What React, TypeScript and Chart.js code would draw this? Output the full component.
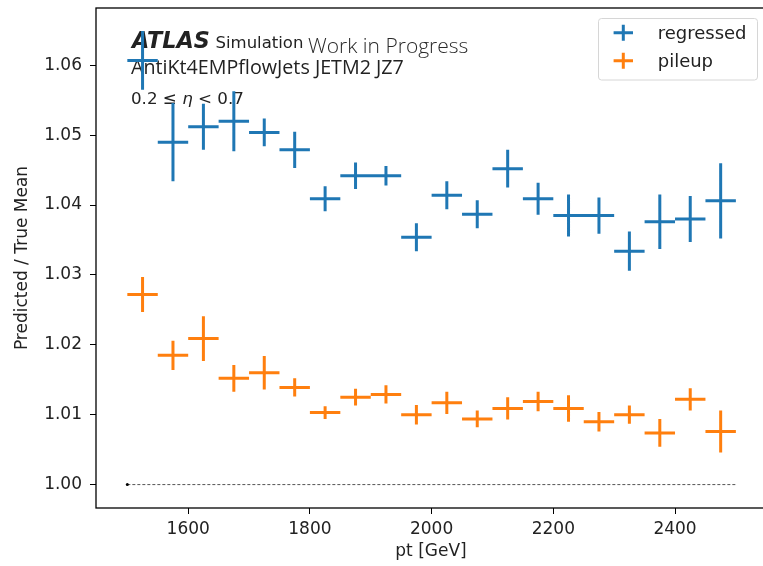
import React, { useEffect, useRef } from "react";
import { Chart, registerables } from "chart.js";

Chart.register(...registerables);

// ---- data ----
const binCenters = [1525, 1575, 1625, 1675, 1725, 1775, 1825, 1875, 1925, 1975, 2025, 2075, 2125, 2175, 2225, 2275, 2325, 2375, 2425, 2475];
const binHalfWidth = 25;
const regressedMean = [1.0607, 1.0490, 1.0512, 1.0520, 1.0504, 1.0479, 1.0409, 1.0442, 1.0442, 1.0354, 1.0414, 1.0387, 1.0452, 1.0409, 1.0385, 1.0385, 1.0334, 1.0376, 1.0380, 1.0406];
const regressedErr = [0.0042, 0.0056, 0.0033, 0.0043, 0.0020, 0.0026, 0.0018, 0.0019, 0.0014, 0.0020, 0.0020, 0.0020, 0.0027, 0.0023, 0.0030, 0.0026, 0.0028, 0.0039, 0.0033, 0.0054];
const pileupMean = [1.0272, 1.0185, 1.0209, 1.0152, 1.0160, 1.0139, 1.0103, 1.0125, 1.0129, 1.0100, 1.0117, 1.0094, 1.0109, 1.0119, 1.0109, 1.0090, 1.0100, 1.0074, 1.0122, 1.0076];
const pileupErr = [0.0025, 0.0021, 0.0032, 0.0019, 0.0024, 0.0013, 0.0009, 0.0012, 0.0013, 0.0014, 0.0016, 0.0012, 0.0016, 0.0014, 0.0019, 0.0014, 0.0013, 0.0020, 0.0016, 0.0030];
const referenceX = [1500, 2500];
const referenceY = 1.0;
const xTicks = [1600, 1800, 2000, 2200, 2400];
const yTicks = [1.0, 1.01, 1.02, 1.03, 1.04, 1.05, 1.06];
const xRange = [1448.5, 2549.5];
const yRange = [0.99665, 1.0682];
const seriesNames = ["regressed", "pileup"];
const seriesColors = ["#1f77b4", "#ff7f0e"];
const xTitle = "pt [GeV]";
const yTitle = "Predicted / True Mean";

type Pt = { x: number; y: number | null };

function crossSegments(means: number[], errs: number[]): Pt[] {
  const out: Pt[] = [];
  binCenters.forEach((xc, i) => {
    const m = means[i];
    const e = errs[i];
    out.push({ x: xc - binHalfWidth, y: m });
    out.push({ x: xc + binHalfWidth, y: m });
    out.push({ x: xc, y: null });
    out.push({ x: xc, y: m - e });
    out.push({ x: xc, y: m + e });
    out.push({ x: xc, y: null });
  });
  return out;
}

const TXT = "#222222";

const decorations = {
  id: "decorations",
  beforeDatasetsDraw(chart: any) {
    const ctx = chart.ctx as CanvasRenderingContext2D;
    const a = chart.chartArea;
    ctx.save();
    ctx.fillStyle = TXT;
    ctx.textBaseline = "alphabetic";
    ctx.textAlign = "left";
    const x0 = a.left + 36;
    ctx.font = 'italic bold 22.3px "DejaVu Sans"';
    ctx.fillText("ATLAS", x0, 48.3);
    ctx.font = '16.5px "DejaVu Sans"';
    ctx.fillText("Simulation", 215.5, 47.7);
    ctx.font = '300 21px "Open Sans"';
    ctx.fillStyle = "#2a2a2a";
    ctx.fillText("Work in Progress", 308, 53.3);
    ctx.fillStyle = TXT;
    ctx.font = '19.7px "Open Sans"';
    ctx.fillText("AntiKt4EMPflowJets JETM2 JZ7", x0 - 1, 74.3);
    // eta range
    let x = x0 - 1;
    const y = 104.3;
    ctx.font = '16.7px "DejaVu Sans"';
    const p1 = "0.2 \u2264 ";
    ctx.fillText(p1, x, y);
    x += ctx.measureText(p1).width;
    ctx.font = 'italic 16.7px "DejaVu Sans"';
    ctx.fillText("\u03b7", x, y);
    x += ctx.measureText("\u03b7").width;
    ctx.font = '16.7px "DejaVu Sans"';
    ctx.fillText(" < 0.7", x, y);
    ctx.restore();
  },
  afterDraw(chart: any) {
    const ctx = chart.ctx as CanvasRenderingContext2D;
    const a = chart.chartArea;
    ctx.save();
    // frame
    ctx.strokeStyle = "#000";
    ctx.lineWidth = 1.3;
    ctx.strokeRect(a.left, a.top, a.right - a.left, a.bottom - a.top);
    // legend
    const lx = 598.5, ly = 18.5, lw = 159, lh = 61.5, r = 3;
    ctx.beginPath();
    ctx.moveTo(lx + r, ly);
    ctx.lineTo(lx + lw - r, ly);
    ctx.quadraticCurveTo(lx + lw, ly, lx + lw, ly + r);
    ctx.lineTo(lx + lw, ly + lh - r);
    ctx.quadraticCurveTo(lx + lw, ly + lh, lx + lw - r, ly + lh);
    ctx.lineTo(lx + r, ly + lh);
    ctx.quadraticCurveTo(lx, ly + lh, lx, ly + lh - r);
    ctx.lineTo(lx, ly + r);
    ctx.quadraticCurveTo(lx, ly, lx + r, ly);
    ctx.closePath();
    ctx.fillStyle = "rgba(255,255,255,0.8)";
    ctx.fill();
    ctx.strokeStyle = "#d6d6d6";
    ctx.lineWidth = 1;
    ctx.stroke();
    seriesNames.forEach((name, i) => {
      const cx = 623.3;
      const cy = 32.7 + i * 28;
      ctx.strokeStyle = seriesColors[i];
      ctx.lineWidth = 3;
      ctx.beginPath();
      ctx.moveTo(cx - 9.7, cy);
      ctx.lineTo(cx + 9.7, cy);
      ctx.moveTo(cx, cy - 8);
      ctx.lineTo(cx, cy + 8);
      ctx.stroke();
      ctx.fillStyle = TXT;
      ctx.font = '18px "DejaVu Sans"';
      ctx.textBaseline = "alphabetic";
      ctx.fillText(name, 657.7, cy + 6.3);
    });
    ctx.restore();
  },
};

export default function App() {
  const ref = useRef<HTMLCanvasElement | null>(null);
  useEffect(() => {
    if (!ref.current) return;
    const tickFont = { family: "DejaVu Sans", size: 17 };
    const chart = new Chart(ref.current, {
      type: "scatter",
      data: {
        datasets: [
          {
            label: "reference",
            data: referenceX.map((x) => ({ x, y: referenceY })),
            showLine: true,
            borderColor: "#555555",
            borderWidth: 1,
            borderDash: [3, 2],
            pointRadius: (c: any) => (c.dataIndex === 0 ? 1.5 : 0),
            pointBackgroundColor: "#000",
            pointBorderWidth: 0,
          },
          {
            label: seriesNames[0],
            data: crossSegments(regressedMean, regressedErr),
            showLine: true,
            spanGaps: false,
            borderColor: seriesColors[0],
            borderWidth: 3,
            borderCapStyle: "butt",
            pointRadius: 0,
          },
          {
            label: seriesNames[1],
            data: crossSegments(pileupMean, pileupErr),
            showLine: true,
            spanGaps: false,
            borderColor: seriesColors[1],
            borderWidth: 3,
            borderCapStyle: "butt",
            pointRadius: 0,
          },
        ] as any,
      },
      options: {
        animation: false,
        responsive: false,
        layout: { padding: { left: 0, top: 8, right: 34, bottom: 0 } },
        plugins: { legend: { display: false }, tooltip: { enabled: false } },
        scales: {
          x: {
            type: "linear",
            min: xRange[0],
            max: xRange[1],
            afterBuildTicks: (s: any) => {
              s.ticks = xTicks.map((v) => ({ value: v }));
            },
            afterFit: (s: any) => {
              s.height = 58;
              s.paddingLeft = 0;
              s.paddingRight = 0;
            },
            ticks: { font: tickFont, color: TXT, padding: 5, maxRotation: 0, callback: (v: any) => String(v) },
            grid: { drawOnChartArea: false, color: "#000", tickLength: 6, lineWidth: 1 },
            border: { display: false },
            title: { display: true, text: xTitle, font: tickFont, color: TXT, padding: { top: 0, bottom: 4 } },
          },
          y: {
            type: "linear",
            min: yRange[0],
            max: yRange[1],
            afterBuildTicks: (s: any) => {
              s.ticks = yTicks.map((v) => ({ value: v }));
            },
            afterFit: (s: any) => {
              s.width = 96;
              s.paddingTop = 0;
              s.paddingBottom = 0;
            },
            ticks: { font: tickFont, color: TXT, padding: 8, callback: (v: any) => Number(v).toFixed(2) },
            grid: { drawOnChartArea: false, color: "#000", tickLength: 6, lineWidth: 1 },
            border: { display: false },
            title: { display: true, text: yTitle, font: tickFont, color: TXT, padding: { top: 12, bottom: 0 } },
          },
        },
      },
      plugins: [decorations],
    } as any);
    return () => chart.destroy();
  }, []);
  return (
    <div style={{ position: "fixed", left: 0, top: 0, width: 763, height: 566, overflow: "hidden", background: "#fff" }}>
      <canvas ref={ref} width={800} height={566} style={{ display: "block", width: 800, height: 566 }} />
    </div>
  );
}
